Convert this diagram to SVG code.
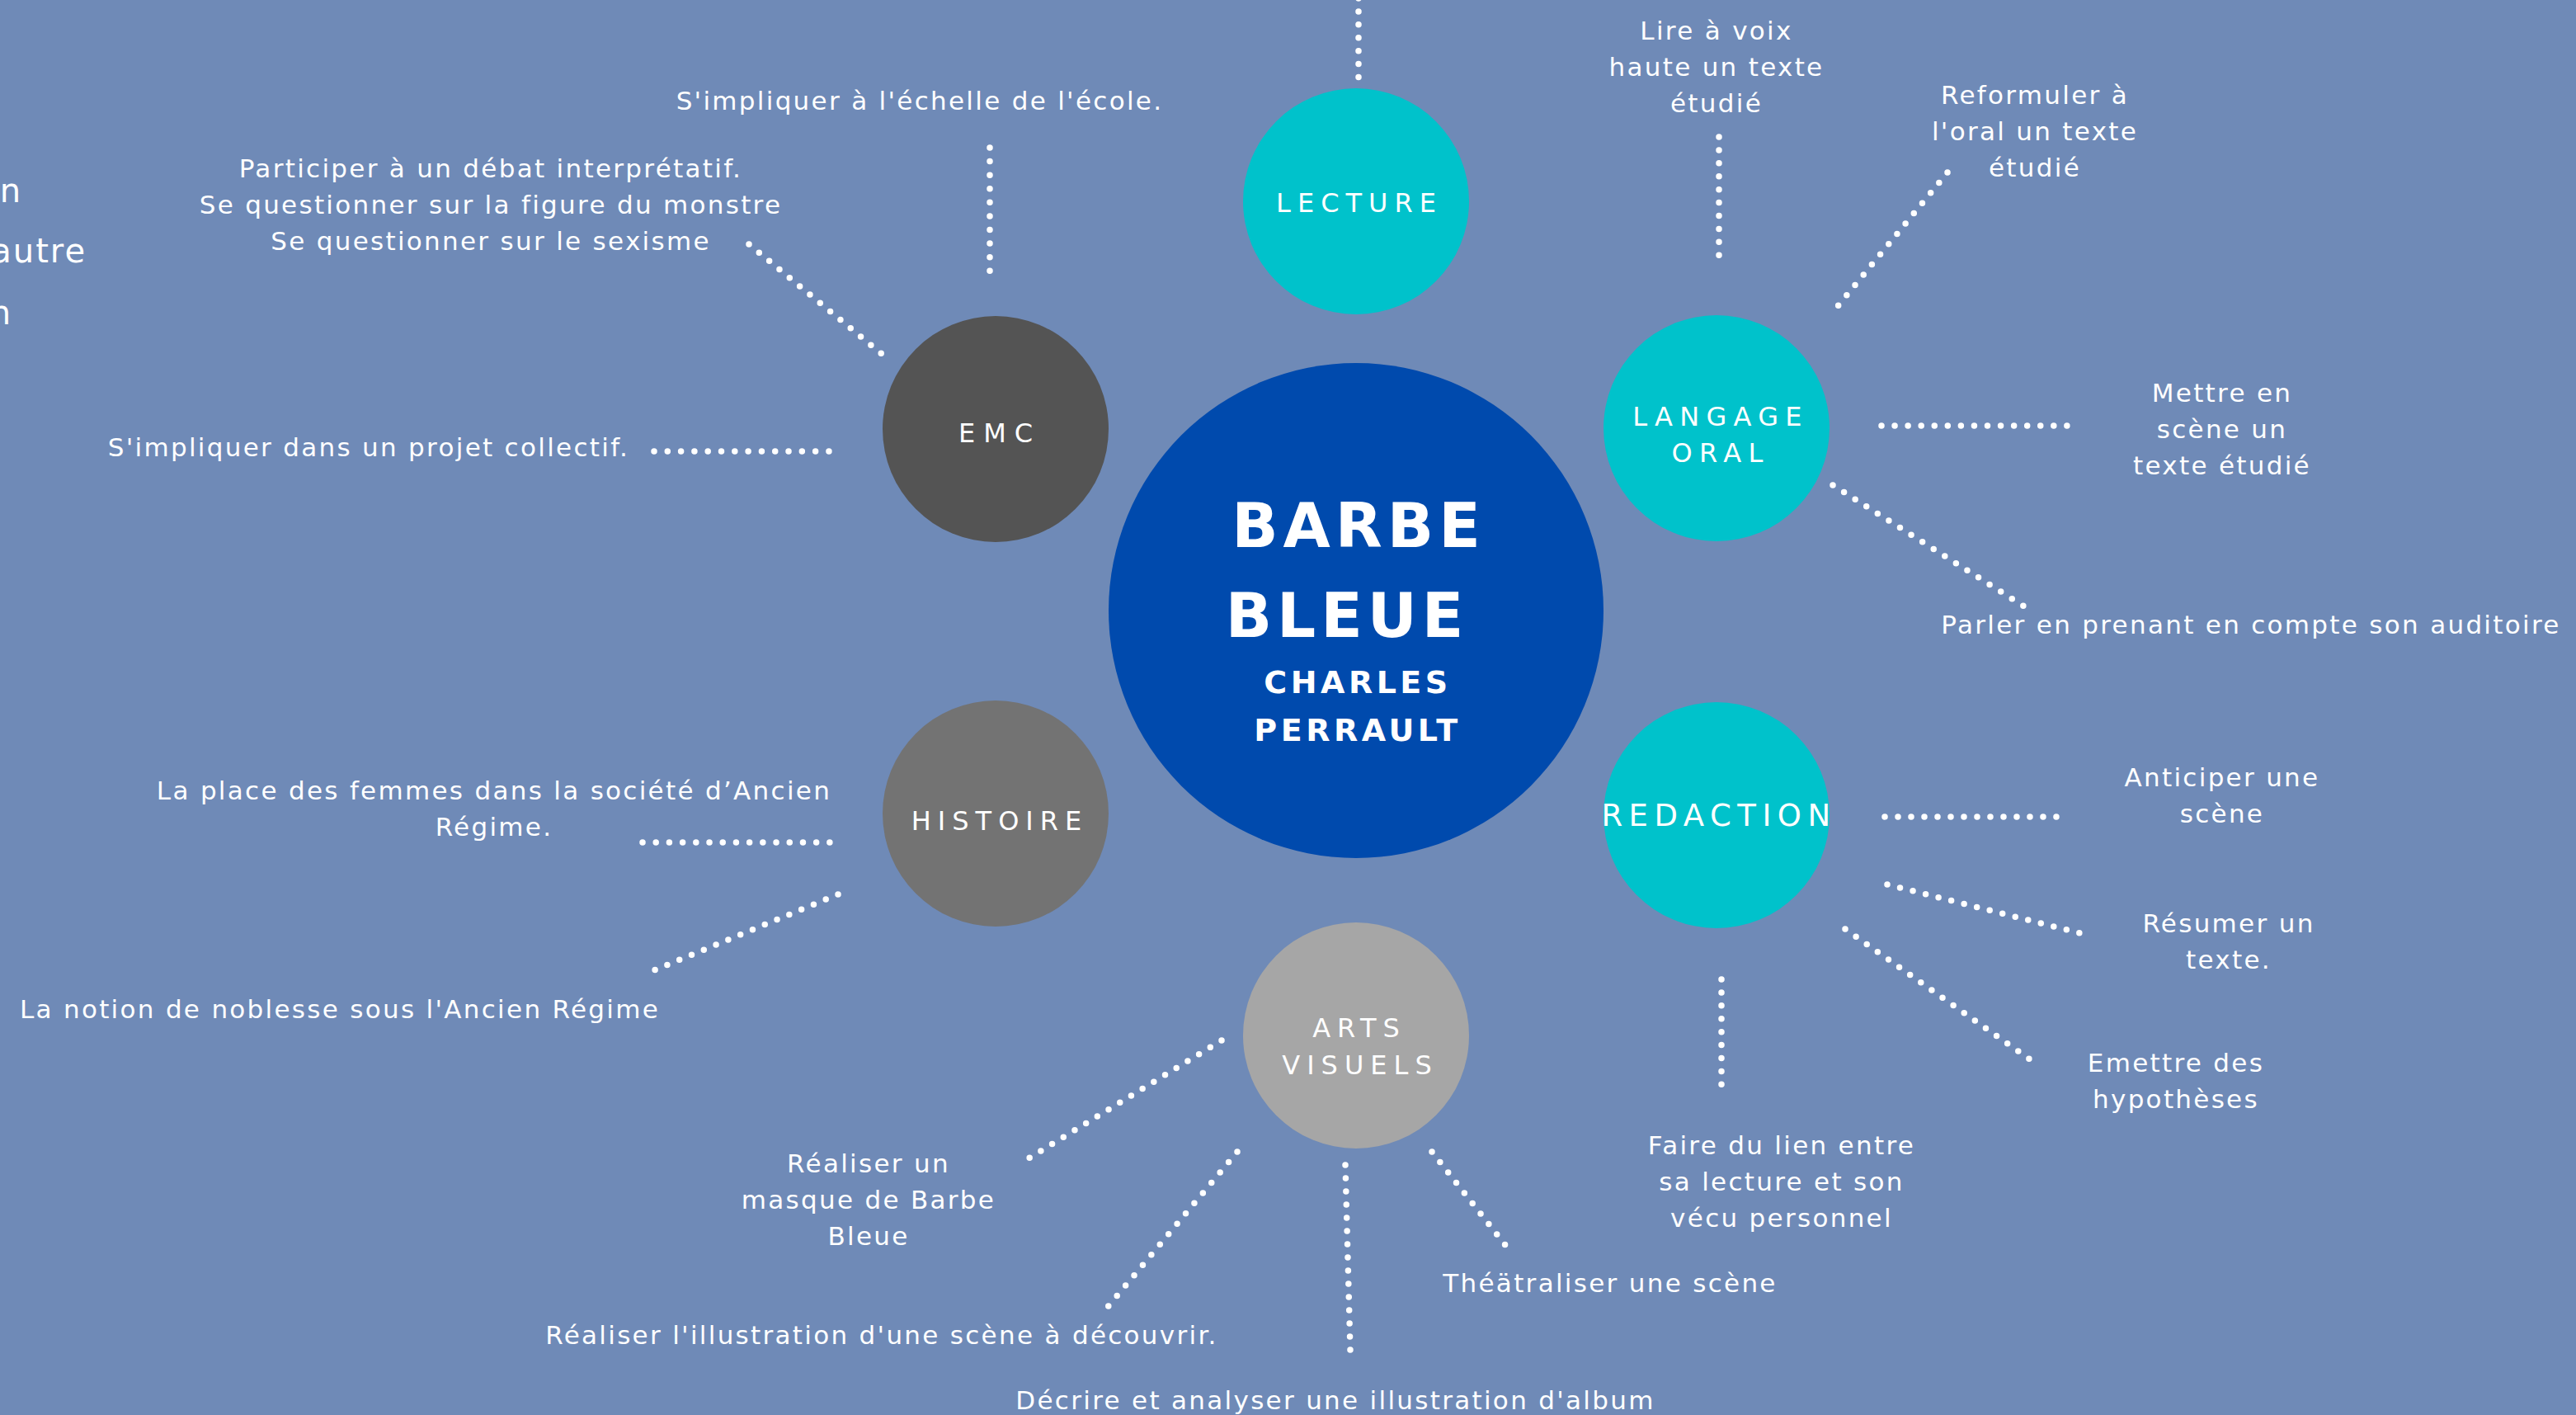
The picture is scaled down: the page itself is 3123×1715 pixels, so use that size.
<svg xmlns="http://www.w3.org/2000/svg" width="3123" height="1715" viewBox="0 0 3123 1715">
<defs>
<style>
.bg{fill:#6f8ab7}
.t{font-family:"DejaVu Sans","Noto Sans",sans-serif;font-size:31px;fill:#ffffff;letter-spacing:2.3px;text-anchor:middle}
.big{font-family:"DejaVu Sans","Noto Sans",sans-serif;font-size:40px;fill:#ffffff;letter-spacing:2px;text-anchor:end}
.lab{font-family:"DejaVu Sans","Noto Sans",sans-serif;font-size:32px;fill:#ffffff;letter-spacing:8px;text-anchor:middle}
.title{font-family:"DejaVu Sans","Noto Sans",sans-serif;font-weight:bold;font-size:74px;fill:#ffffff;letter-spacing:6px;text-anchor:middle}
.sub{font-family:"DejaVu Sans","Noto Sans",sans-serif;font-weight:bold;font-size:38px;fill:#ffffff;letter-spacing:4.5px;text-anchor:middle}
.dot{fill:none;stroke:#ffffff;stroke-width:7.5;stroke-linecap:round;stroke-dasharray:0 0.995}
.cyan{fill:#00c2cb}
</style>
</defs>
<rect class="bg" x="0" y="0" width="3123" height="1715"/>

<g id="connectors">
<path class="dot" d="M1647,-2 L1647,94" pathLength="6"/>
<path class="dot" d="M1200,179 L1200,329" pathLength="9"/>
<path class="dot" d="M908,296 L1069,429" pathLength="13"/>
<path class="dot" d="M793,547 L1006,547" pathLength="13"/>
<path class="dot" d="M2084,166 L2084,310" pathLength="9"/>
<path class="dot" d="M2361,209 L2228,371" pathLength="13"/>
<path class="dot" d="M2281,516 L2507,516" pathLength="14"/>
<path class="dot" d="M2222,588 L2454,735" pathLength="17"/>
<path class="dot" d="M2285,990 L2494,990" pathLength="13"/>
<path class="dot" d="M2288,1072 L2522,1131" pathLength="15"/>
<path class="dot" d="M2237,1126 L2461,1284" pathLength="17"/>
<path class="dot" d="M2087,1187 L2087,1315" pathLength="8"/>
<path class="dot" d="M1481,1261 L1247,1404" pathLength="17"/>
<path class="dot" d="M1500,1396 L1343,1584" pathLength="15"/>
<path class="dot" d="M1631,1412 L1637,1637" pathLength="14"/>
<path class="dot" d="M1736,1396 L1825,1509" pathLength="9"/>
<path class="dot" d="M779,1021 L1007,1021" pathLength="14"/>
<path class="dot" d="M1016,1084 L793,1176" pathLength="15"/>
</g>

<g id="node-center">
<circle cx="1644" cy="740" r="300" fill="#004aad"/>
<text class="title" x="1647" y="663">BARBE</text>
<text class="title" x="1633" y="772">BLEUE</text>
<text class="sub" x="1646" y="840">CHARLES</text>
<text class="sub" x="1646" y="898">PERRAULT</text>
</g>

<g id="node-lecture">
<circle class="cyan" cx="1644" cy="244" r="137"/>
<text class="lab" x="1648" y="257">LECTURE</text>
</g>

<g id="node-langage-oral">
<circle class="cyan" cx="2081" cy="519" r="137"/>
<text class="lab" x="2086" y="516" style="letter-spacing:8.3px">LANGAGE</text>
<text class="lab" x="2086" y="560" style="letter-spacing:8.3px">ORAL</text>
</g>

<g id="node-redaction">
<circle class="cyan" cx="2081" cy="988" r="137"/>
<text class="lab" x="2084" y="1001" style="font-size:37px;letter-spacing:7.5px">REDACTION</text>
</g>

<g id="node-arts-visuels">
<circle cx="1644" cy="1255" r="137" fill="#a6a6a6"/>
<text class="lab" x="1648" y="1257">ARTS</text>
<text class="lab" x="1649" y="1302">VISUELS</text>
</g>

<g id="node-histoire">
<circle cx="1207" cy="986" r="137" fill="#737373"/>
<text class="lab" x="1212" y="1006">HISTOIRE</text>
</g>

<g id="node-emc">
<circle cx="1207" cy="520" r="137" fill="#545454"/>
<text class="lab" x="1212" y="536" style="letter-spacing:10px">EMC</text>
</g>

<g id="leaf-left-cut">
<text class="big" x="27" y="245">n</text>
<text class="big" x="105" y="318">autre</text>
<text class="big" x="15" y="393">n</text>
</g>

<g id="leaf-emc">
<text class="t" x="1115" y="133">S'impliquer à l'échelle de l'école.</text>
<text class="t" x="595" y="215">Participer à un débat interprétatif.</text>
<text class="t" x="595" y="259">Se questionner sur la figure du monstre</text>
<text class="t" x="595" y="303">Se questionner sur le sexisme</text>
<text class="t" x="447" y="553">S'impliquer dans un projet collectif.</text>
</g>

<g id="leaf-langage">
<text class="t" x="2081" y="48">Lire à voix</text>
<text class="t" x="2081" y="92">haute un texte</text>
<text class="t" x="2081" y="136">étudié</text>
<text class="t" x="2467" y="126">Reformuler à</text>
<text class="t" x="2467" y="170">l'oral un texte</text>
<text class="t" x="2467" y="214">étudié</text>
<text class="t" x="2694" y="487">Mettre en</text>
<text class="t" x="2694" y="531">scène un</text>
<text class="t" x="2694" y="575">texte étudié</text>
<text class="t" x="2729" y="768">Parler en prenant en compte son auditoire</text>
</g>

<g id="leaf-redaction">
<text class="t" x="2694" y="953">Anticiper une</text>
<text class="t" x="2694" y="997">scène</text>
<text class="t" x="2702" y="1130">Résumer un</text>
<text class="t" x="2702" y="1174">texte.</text>
<text class="t" x="2638" y="1299">Emettre des</text>
<text class="t" x="2638" y="1343">hypothèses</text>
<text class="t" x="2160" y="1399">Faire du lien entre</text>
<text class="t" x="2160" y="1443">sa lecture et son</text>
<text class="t" x="2160" y="1487">vécu personnel</text>
</g>

<g id="leaf-arts">
<text class="t" x="1053" y="1421">Réaliser un</text>
<text class="t" x="1053" y="1465">masque de Barbe</text>
<text class="t" x="1053" y="1509">Bleue</text>
<text class="t" x="1069" y="1629">Réaliser l'illustration d'une scène à découvrir.</text>
<text class="t" x="1619" y="1708">Décrire et analyser une illustration d'album</text>
<text class="t" x="1952" y="1566">Théätraliser une scène</text>
</g>

<g id="leaf-histoire">
<text class="t" x="599" y="969">La place des femmes dans la société d’Ancien</text>
<text class="t" x="599" y="1013">Régime.</text>
<text class="t" x="412" y="1234">La notion de noblesse sous l'Ancien Régime</text>
</g>
</svg>
